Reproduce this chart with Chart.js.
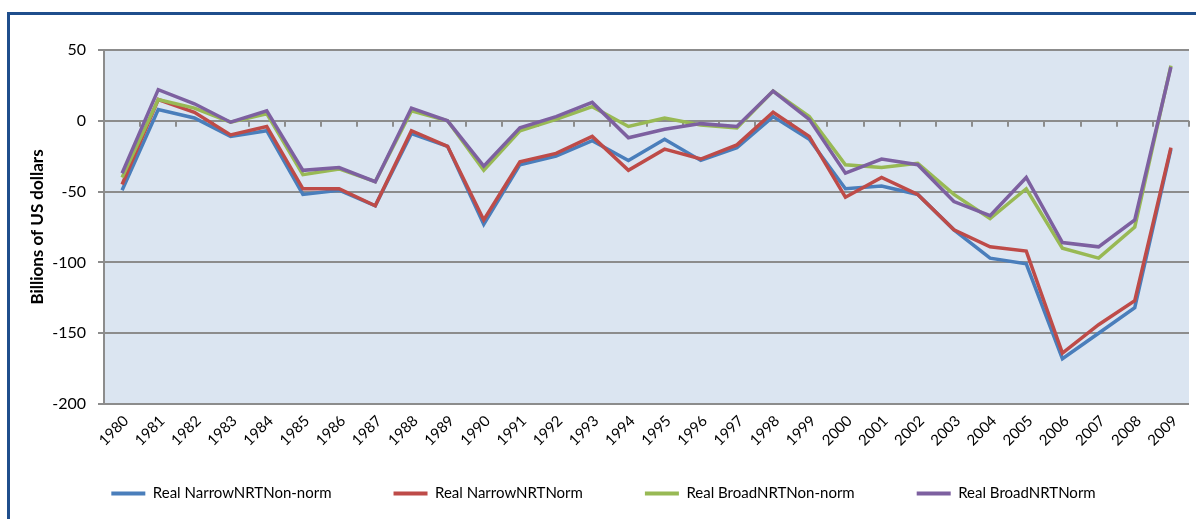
<!DOCTYPE html>
<html>
<head>
<meta charset="utf-8">
<script src="https://cdn.jsdelivr.net/npm/chart.js@4"></script>
<style>
  html, body { margin: 0; padding: 0; background: #fff; }
  #wrap { position: relative; width: 1196px; height: 519px; overflow: hidden; }
  #frame { position: absolute; left: 7px; top: 12px; width: 1300px; height: 600px;
           border-left: 3px solid #1f4e8c; border-top: 3px solid #1f4e8c; pointer-events: none; }
  canvas { position: absolute; left: 0; top: 0; }
</style>
</head>
<body>
<div id="wrap">
  <div id="frame"></div>
  <canvas id="chart" width="1196" height="519"></canvas>
</div>
<script>
const years = ['1980','1981','1982','1983','1984','1985','1986','1987','1988','1989',
  '1990','1991','1992','1993','1994','1995','1996','1997','1998','1999',
  '2000','2001','2002','2003','2004','2005','2006','2007','2008','2009']

const narrowNonNorm = [-49, 8, 2, -11, -7, -52, -49, -60, -9, -18,
  -73, -31, -25, -14, -28, -13, -28, -19, 3, -13,
  -48, -46, -52, -77, -97, -101, -168, -150, -132, -20]
const narrowNorm = [-45, 15, 6, -10, -4, -48, -48, -60, -7, -18,
  -70, -29, -23, -11, -35, -20, -27, -17, 6, -11,
  -54, -40, -52, -77, -89, -92, -164, -144, -127, -19]
const broadNonNorm = [-40, 15, 9, -1, 5, -38, -34, -43, 7, 0,
  -35, -7, 1, 10, -4, 2, -3, -5, 21, 3,
  -31, -33, -30, -52, -69, -48, -90, -97, -75, 39]
const broadNorm = [-37, 22, 12, -1, 7, -35, -33, -43, 9, 0,
  -32, -5, 3, 13, -12, -6, -2, -4, 21, 1,
  -37, -27, -31, -57, -67, -40, -86, -89, -70, 38]

const yTicks = [50, 0, -50, -100, -150, -200]

const FONT = 'Lato, "Open Sans", sans-serif'

// plot background + small category tick marks on the zero line
const plotBg = {
  id: 'plotBg',
  beforeDraw(chart) {
    const { ctx, chartArea: a } = chart
    ctx.save()
    ctx.fillStyle = '#dbe5f1'
    ctx.fillRect(a.left, a.top, a.right - a.left, a.bottom - a.top)
    ctx.restore()
  },
  beforeDatasetsDraw(chart) {
    const { ctx, scales } = chart
    const x = scales.x, y = scales.y
    const y0 = y.getPixelForValue(0)
    ctx.save()
    ctx.strokeStyle = '#8c8c8c'
    ctx.lineWidth = 2
    ctx.beginPath()
    for (let i = 0; i <= years.length; i++) {
      const px = Math.round(x.getPixelForValue(i - 0.5))
      ctx.moveTo(px, y0)
      ctx.lineTo(px, y0 + 6)
    }
    ctx.stroke()
    ctx.restore()
  }
}

const mk = (label, data, color, order) => ({
  label, data, order,
  borderColor: color,
  backgroundColor: color,
  borderWidth: 3.5,
  pointRadius: 0,
  tension: 0,
  fill: false
})

new Chart(document.getElementById('chart'), {
  type: 'line',
  data: {
    labels: years,
    datasets: [
      mk('Real NarrowNRTNon-norm', narrowNonNorm, '#4a7ebb', 4),
      mk('Real NarrowNRTNorm', narrowNorm, '#be4b48', 3),
      mk('Real BroadNRTNon-norm', broadNonNorm, '#98b954', 2),
      mk('Real BroadNRTNorm', broadNorm, '#7d60a0', 1)
    ]
  },
  plugins: [plotBg],
  options: {
    responsive: false,
    animation: false,
    layout: { padding: { left: 18, right: 7, top: 50, bottom: 8 } },
    plugins: {
      tooltip: { enabled: false },
      legend: {
        position: 'bottom',
        labels: {
          font: { family: FONT, size: 15 },
          color: '#000',
          boxWidth: 34,
          boxHeight: 4,
          padding: 62,
          sort: (a, b) => a.datasetIndex - b.datasetIndex,
          generateLabels(chart) {
            const items = Chart.defaults.plugins.legend.labels.generateLabels(chart)
            items.forEach(it => { it.lineWidth = 0 })
            return items
          }
        }
      }
    },
    scales: {
      x: {
        offset: true,
        grid: { display: false, drawTicks: false },
        border: { display: false },
        ticks: {
          font: { family: FONT, size: 15 },
          color: '#000',
          minRotation: 45,
          maxRotation: 45,
          padding: 8,
          labelOffset: 4,
          autoSkip: false
        },
        afterFit(scale) {
          scale.height = 20
          // labels hang below the short axis box, so don't clip them
          scale._computeLabelArea = () => undefined
        }
      },
      y: {
        min: -200,
        max: 50,
        afterBuildTicks(scale) { scale.ticks = yTicks.map(v => ({ value: v })) },
        grid: { color: '#8c8c8c', lineWidth: 2, tickLength: 6 },
        border: { color: '#8c8c8c', width: 2 },
        ticks: {
          font: { family: FONT, size: 16 },
          color: '#000',
          padding: 12
        },
        title: {
          display: true,
          text: 'Billions of US dollars',
          font: { family: FONT, size: 17, weight: 'bold' },
          color: '#000',
          padding: { top: 9, bottom: 0 }
        },
        afterFit(scale) { scale.width = 86 }
      }
    }
  }
})
</script>
</body>
</html>
